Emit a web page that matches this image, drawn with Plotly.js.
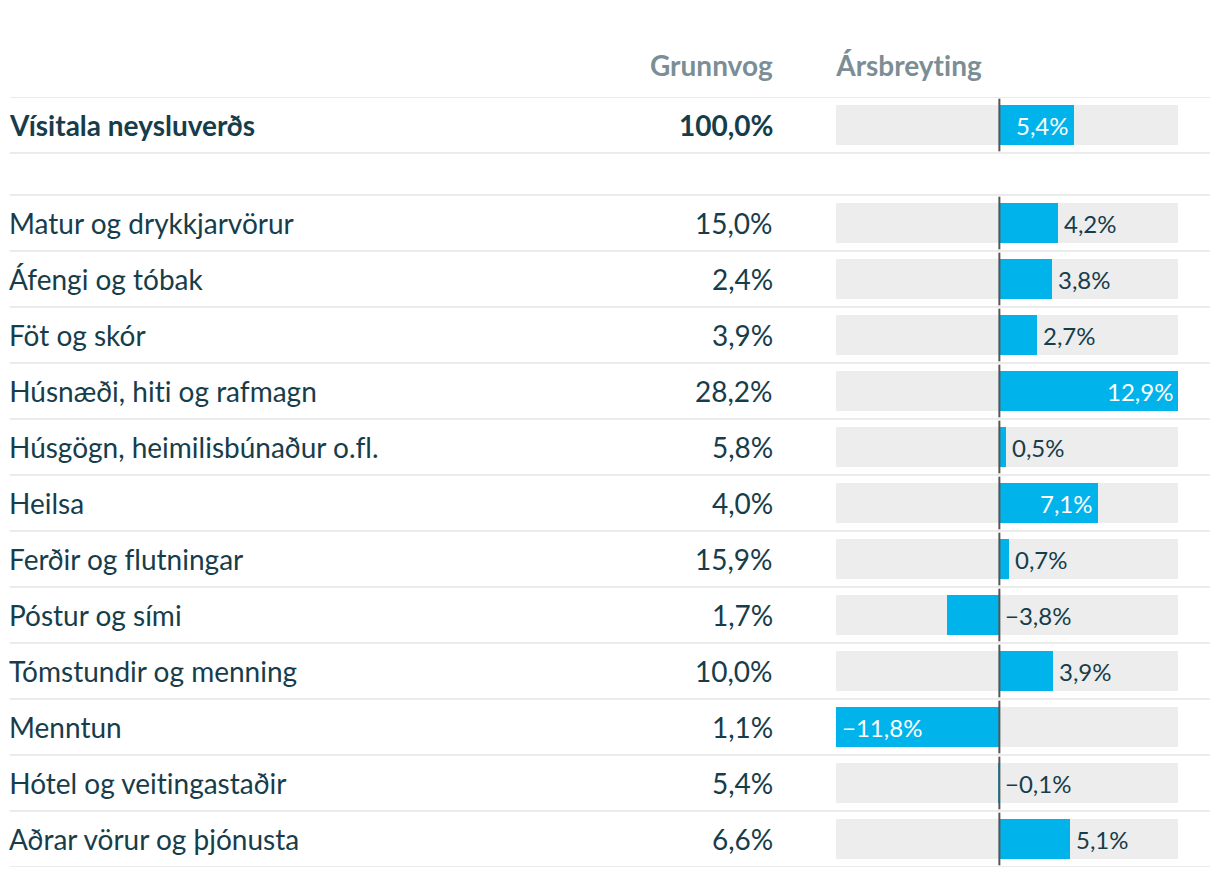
<!DOCTYPE html>
<html>
<head>
<meta charset="utf-8">
<script src="https://cdn.plot.ly/plotly-3.0.1.min.js"></script>
<style>
html,body{margin:0;padding:0;background:#fff;}
#chart{width:1220px;height:878px;}
#chart text{font-variant-ligatures:none !important;font-feature-settings:"liga" 0, "clig" 0 !important;}
</style>
</head>
<body>
<div id="chart"></div>
<script>
// ---- data ----
const headerWeight = "Grunnvog";
const headerChange = "Ársbreyting";
const totalLabel = "Vísitala neysluverðs";
const totalWeight = 100.0;
const totalChange = 5.4;
const categories = [
  "Matur og drykkjarvörur",
  "Áfengi og tóbak",
  "Föt og skór",
  "Húsnæði, hiti og rafmagn",
  "Húsgögn, heimilisbúnaður o.fl.",
  "Heilsa",
  "Ferðir og flutningar",
  "Póstur og sími",
  "Tómstundir og menning",
  "Menntun",
  "Hótel og veitingastaðir",
  "Aðrar vörur og þjónusta"
];
const weights = [15.0, 2.4, 3.9, 28.2, 5.8, 4.0, 15.9, 1.7, 10.0, 1.1, 5.4, 6.6];
const changes = [4.2, 3.8, 2.7, 12.9, 0.5, 7.1, 0.7, -3.8, 3.9, -11.8, -0.1, 5.1];

// ---- layout helpers ----
const W = 1220, H = 878;
const TEXT = "#173d4b", HEAD = "#7b8e95", BLUE = "#00b4eb", BG = "#ededed", SEP = "#ebebeb";
const FONT = "Lato, 'Open Sans', sans-serif";
const GAP = 0.75;
const fmt = v => (v < 0 ? "\u2212" : "") + Math.abs(v).toFixed(1).replace(".", ",") + "%";

const labels = [totalLabel].concat(categories);
const wts = [totalWeight].concat(weights);
const vals = [totalChange].concat(changes);
const ypos = vals.map((v, i) => i === 0 ? 0 : i + GAP);
const vmin = Math.min.apply(null, vals), vmax = Math.max.apply(null, vals);

const bgTrace = {
  type: "bar", orientation: "h", y: ypos, x: vals.map(() => vmax - vmin), base: vals.map(() => vmin),
  width: 0.715, marker: {color: BG}, hoverinfo: "skip", showlegend: false
};
const barTrace = {
  type: "bar", orientation: "h", y: ypos, x: vals, width: 0.715,
  marker: {color: BLUE}, hoverinfo: "skip", showlegend: false
};

const shapes = [];
// separators
const seps = [-0.5, 0.5];
for (let i = 1; i < ypos.length; i++) seps.push(ypos[i] - 0.5);
seps.push(ypos[ypos.length - 1] + 0.5);
seps.forEach(y => shapes.push({type: "line", xref: "paper", yref: "y", x0: 10 / W, x1: 1210 / W, y0: y, y1: y,
  line: {color: SEP, width: 2}, layer: "below"}));
// zero line per row
ypos.forEach(y => shapes.push({type: "line", xref: "x", yref: "y", x0: 0, x1: 0, y0: y - 0.47, y1: y + 0.47,
  line: {color: "#555555", width: 2}, layer: "above"}));

const ann = [];
ann.push({xref: "paper", yref: "paper", x: 772 / W, y: 1 + 32 / 770, xanchor: "right", yanchor: "middle", xshift: 3,
  text: "<b>" + headerWeight + "</b>", showarrow: false, font: {family: FONT, size: 28, color: HEAD}});
ann.push({xref: "paper", yref: "paper", x: 836 / W, y: 1 + 32 / 770, xanchor: "left", yanchor: "middle", xshift: -3,
  text: "<b>" + headerChange + "</b>", showarrow: false, font: {family: FONT, size: 28, color: HEAD}});
labels.forEach((lab, i) => {
  const b = i === 0;
  ann.push({xref: "paper", yref: "y", x: 10 / W, y: ypos[i], xanchor: "left", yanchor: "middle", xshift: -3,
    text: b ? "<b>" + lab + "</b>" : lab, showarrow: false, font: {family: FONT, size: 28, color: TEXT}});
  ann.push({xref: "paper", yref: "y", x: 772 / W, y: ypos[i], xanchor: "right", yanchor: "middle", xshift: 3,
    text: b ? "<b>" + fmt(wts[i]) + "</b>" : fmt(wts[i]), showarrow: false, font: {family: FONT, size: 28, color: TEXT}});
  const v = vals[i];
  const inside = Math.abs(v) > 5.2;
  let a;
  if (inside) {
    a = v > 0 ? {x: v, xanchor: "right", xshift: -3} : {x: v, xanchor: "left", xshift: 4};
  } else {
    a = {x: Math.max(v, 0), xanchor: "left", xshift: 4};
  }
  ann.push(Object.assign({xref: "x", yref: "y", y: ypos[i], yanchor: "middle", text: fmt(v), showarrow: false,
    font: {family: FONT, size: 24, color: inside ? "#ffffff" : TEXT}}, a));
});

const layout = {
  width: W, height: H,
  margin: {l: 0, r: 0, t: 97, b: 11, pad: 0},
  paper_bgcolor: "#ffffff", plot_bgcolor: "rgba(0,0,0,0)",
  barmode: "overlay", bargap: 0,
  xaxis: {domain: [836 / W, 1178 / W], range: [vmin, vmax], showgrid: false, zeroline: false,
    showticklabels: false, ticks: "", fixedrange: true},
  yaxis: {range: [ypos[ypos.length - 1] + 0.5, -0.5], showgrid: false, zeroline: false,
    showticklabels: false, ticks: "", fixedrange: true},
  shapes: shapes, annotations: ann, showlegend: false,
  font: {family: FONT, color: TEXT}
};
Plotly.newPlot("chart", [bgTrace, barTrace], layout, {displayModeBar: false, staticPlot: true});
</script>
</body>
</html>
